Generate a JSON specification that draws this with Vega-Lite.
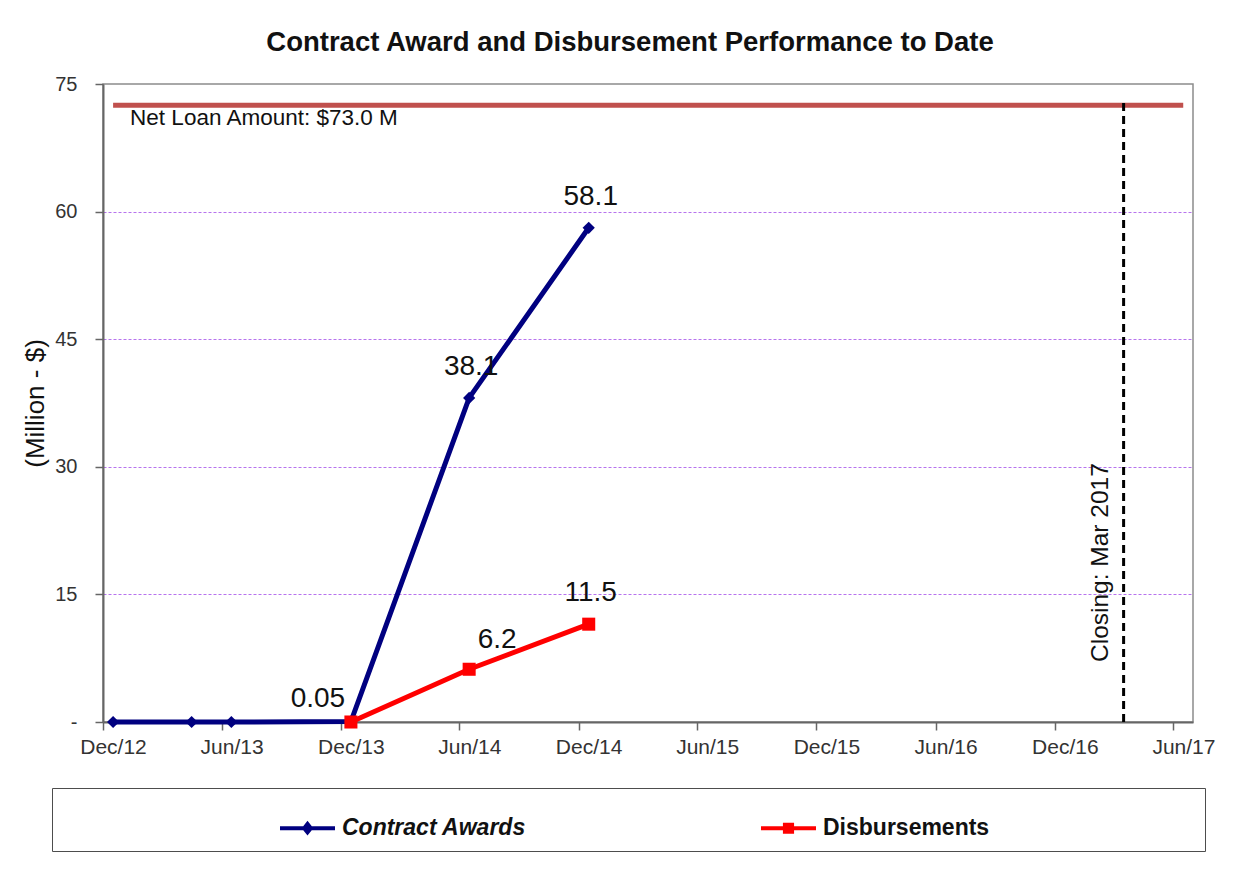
{
  "$schema": "https://vega.github.io/schema/vega-lite/v6.json",
  "width": 1090,
  "height": 638,
  "autosize": {"type": "none"},
  "padding": {"left": 103, "top": 84, "right": 51, "bottom": 152},
  "background": "white",
  "title": {
    "text": "Contract Award and Disbursement Performance to Date",
    "fontSize": 27.5, "fontWeight": "bold", "color": "#111111",
    "anchor": "middle", "frame": "group", "dx": -18, "offset": 18
  },
  "config": {
    "font": "Liberation Sans",
    "view": {"stroke": "#8c8c8c", "strokeWidth": 1.5}
  },
  "datasets": {
    "series": [
      {"series": "Contract Awards", "date": "2012/12/01", "value": 0},
      {"series": "Contract Awards", "date": "2013/04/01", "value": 0},
      {"series": "Contract Awards", "date": "2013/06/01", "value": 0},
      {"series": "Contract Awards", "date": "2013/12/01", "value": 0.05, "label": "0.05"},
      {"series": "Contract Awards", "date": "2014/06/01", "value": 38.1, "label": "38.1"},
      {"series": "Contract Awards", "date": "2014/12/01", "value": 58.1, "label": "58.1"},
      {"series": "Disbursements", "date": "2013/12/01", "value": 0},
      {"series": "Disbursements", "date": "2014/06/01", "value": 6.2, "label": "6.2"},
      {"series": "Disbursements", "date": "2014/12/01", "value": 11.5, "label": "11.5"}
    ],
    "netloan": [
      {"date": "2012/12/01", "value": 72.5, "label": "Net Loan Amount: $73.0 M"},
      {"date": "2017/06/01", "value": 72.5}
    ],
    "closing": [
      {"date": "2017/03/01", "value": 0, "top": 73, "label": "Closing: Mar 2017"}
    ]
  },
  "encoding": {
    "x": {
      "field": "date", "type": "temporal", "timeUnit": "yearmonth", "bandPosition": 0.5,
      "title": null,
      "scale": {"domain": [{"year": 2012, "month": 12, "date": 1}, {"year": 2017, "month": 7, "date": 1}]},
      "axis": {
        "values": [
          {"year": 2012, "month": 12, "date": 1}, {"year": 2013, "month": 6, "date": 1},
          {"year": 2013, "month": 12, "date": 1}, {"year": 2014, "month": 6, "date": 1},
          {"year": 2014, "month": 12, "date": 1}, {"year": 2015, "month": 6, "date": 1},
          {"year": 2015, "month": 12, "date": 1}, {"year": 2016, "month": 6, "date": 1},
          {"year": 2016, "month": 12, "date": 1}, {"year": 2017, "month": 6, "date": 1}
        ],
        "format": "%b/%y", "formatType": "time",
        "labelOffset": 10, "labelPadding": 6, "labelFontSize": 21, "labelColor": "#333333",
        "labelFlush": false, "labelOverlap": false,
        "tickSize": 8, "tickColor": "#666666", "tickWidth": 1.5,
        "domainColor": "#666666", "domainWidth": 2, "grid": false
      }
    },
    "y": {
      "field": "value", "type": "quantitative",
      "title": "(Million - $)",
      "scale": {"domain": [0, 75], "nice": false, "zero": true},
      "axis": {
        "values": [0, 15, 30, 45, 60, 75],
        "labelExpr": "datum.value == 0 ? '-' : datum.label",
        "labelFontSize": 20, "labelColor": "#333333", "labelPadding": 18,
        "tickSize": 8, "tickColor": "#666666", "tickWidth": 1.5,
        "domainColor": "#666666", "domainWidth": 2,
        "grid": true,
        "gridColor": {"condition": {"test": "datum.value == 0 || datum.value == 75", "value": "transparent"}, "value": "#b773ee"},
        "gridDash": [3, 2], "gridWidth": 1,
        "titleFontSize": 26, "titleFontWeight": "normal", "titleColor": "#111111", "titlePadding": 6
      }
    }
  },
  "layer": [
    {
      "data": {"name": "netloan"},
      "mark": {"type": "line", "color": "#C0504D", "strokeWidth": 5}
    },
    {
      "data": {"name": "netloan"},
      "transform": [{"filter": "isValid(datum.label)"}],
      "mark": {"type": "text", "align": "left", "baseline": "alphabetic", "dx": 17, "dy": 20, "fontSize": 22.5, "color": "#111111"},
      "encoding": {"text": {"field": "label"}}
    },
    {
      "data": {"name": "closing"},
      "mark": {"type": "rule", "color": "#000000", "strokeWidth": 3, "strokeDash": [8, 5]},
      "encoding": {"y2": {"field": "top"}}
    },
    {
      "data": {"name": "closing"},
      "mark": {"type": "text", "angle": 270, "align": "left", "baseline": "alphabetic", "dx": 60, "dy": -16, "fontSize": 24.5, "color": "#111111"},
      "encoding": {"text": {"field": "label"}}
    },
    {
      "data": {"name": "series"},
      "mark": {"type": "line", "strokeWidth": 5},
      "encoding": {
        "color": {
          "field": "series", "type": "nominal",
          "scale": {"domain": ["Contract Awards", "Disbursements"], "range": ["#000080", "#FF0000"]},
          "legend": {
            "title": " ", "titleOrient": "right", "titlePadding": 205, "titleFontSize": 10,
            "orient": "none", "legendX": -51, "legendY": 704,
            "direction": "horizontal",
            "strokeColor": "#4d4d4d", "fillColor": "white",
            "padding": 10.5,
            "symbolType": {"expr": "datum.value == 'Contract Awards' ? 'M-1,0H1M-0.12,0L0,-0.15L0.12,0L0,0.15Z' : 'M-1,0H1M-0.13,-0.13H0.13V0.13H-0.13Z'"},
            "symbolSize": 3025,
            "symbolStrokeWidth": 4,
            "symbolOffset": 215.5,
            "labelOffset": 5,
            "columnPadding": 17,
            "labelFontSize": 23,
            "labelFontWeight": "bold",
            "labelFontStyle": {"expr": "datum.value == 'Contract Awards' ? 'italic' : 'normal'"},
            "labelColor": "#111111",
            "labelLimit": 400
          }
        }
      }
    },
    {
      "data": {"name": "series"},
      "transform": [{"filter": "datum.series == 'Contract Awards'"}],
      "mark": {"type": "point", "shape": "diamond", "filled": true, "opacity": 1, "size": 150, "color": "#000080"}
    },
    {
      "data": {"name": "series"},
      "transform": [{"filter": "datum.series == 'Disbursements'"}],
      "mark": {"type": "point", "shape": "square", "filled": true, "opacity": 1, "size": 170, "color": "#FF0000"}
    },
    {
      "data": {"name": "series"},
      "transform": [{"filter": "isValid(datum.label) && datum.label != '6.2' && datum.label != '0.05'"}],
      "mark": {"type": "text", "align": "center", "baseline": "alphabetic", "dx": 2, "dy": -23, "fontSize": 28, "color": "#111111"},
      "encoding": {"text": {"field": "label"}}
    },
    {
      "data": {"name": "series"},
      "transform": [{"filter": "datum.label == '6.2'"}],
      "mark": {"type": "text", "align": "center", "baseline": "alphabetic", "dx": 28, "dy": -21, "fontSize": 28, "color": "#111111"},
      "encoding": {"text": {"field": "label"}}
    },
    {
      "data": {"name": "series"},
      "transform": [{"filter": "datum.label == '0.05'"}],
      "mark": {"type": "text", "align": "center", "baseline": "alphabetic", "dx": -33, "dy": -15, "fontSize": 28, "color": "#111111"},
      "encoding": {"text": {"field": "label"}}
    }
  ]
}
